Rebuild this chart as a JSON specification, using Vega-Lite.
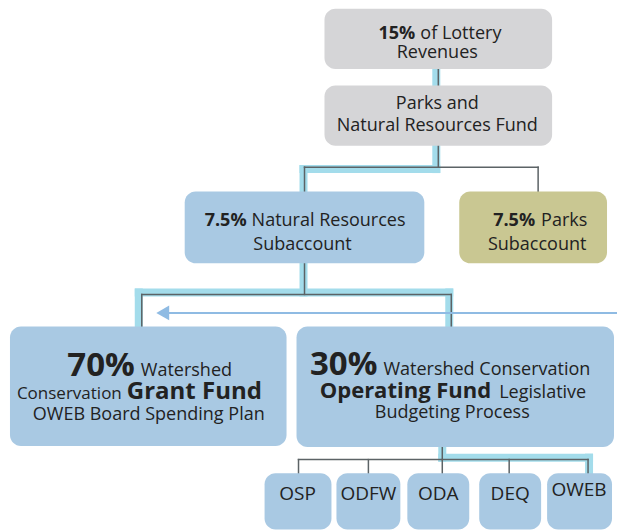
{
  "$schema": "https://vega.github.io/schema/vega-lite/v6.json",
  "width": 618,
  "height": 530,
  "autosize": {"type": "fit", "contains": "padding"},
  "padding": 0,
  "background": "white",
  "config": {"view": {"stroke": null}, "text": {"font": "Open Sans", "color": "#222222"}},
  "datasets": {
    "boxes": [
      {"name": "Lottery", "x": 325, "x2": 553, "y": 9, "y2": 71, "group": "gray"},
      {"name": "Fund", "x": 325, "x2": 553, "y": 88, "y2": 150, "group": "gray"},
      {"name": "NR", "x": 185, "x2": 425, "y": 197, "y2": 271, "group": "blue"},
      {"name": "Parks", "x": 460, "x2": 608, "y": 197, "y2": 271, "group": "olive"},
      {"name": "Grant", "x": 10, "x2": 287, "y": 336, "y2": 459, "group": "blue"},
      {"name": "Operating", "x": 297, "x2": 615, "y": 336, "y2": 460, "group": "blue"},
      {"name": "OSP", "x": 265, "x2": 332, "y": 487, "y2": 545, "group": "blue"},
      {"name": "ODFW", "x": 337, "x2": 401, "y": 487, "y2": 545, "group": "blue"},
      {"name": "ODA", "x": 408, "x2": 470, "y": 487, "y2": 545, "group": "blue"},
      {"name": "DEQ", "x": 480, "x2": 542, "y": 487, "y2": 545, "group": "blue"},
      {"name": "OWEB", "x": 548, "x2": 613, "y": 487, "y2": 545, "group": "blue"}
    ],
    "links": [
      {"kind": "highlight", "x": 437, "x2": 437, "y": 70, "y2": 88},
      {"kind": "highlight", "x": 437, "x2": 437, "y": 150, "y2": 174},
      {"kind": "highlight", "x": 304, "x2": 437, "y": 174, "y2": 174},
      {"kind": "highlight", "x": 304, "x2": 304, "y": 174, "y2": 197},
      {"kind": "highlight", "x": 304, "x2": 304, "y": 271, "y2": 301},
      {"kind": "highlight", "x": 139, "x2": 450, "y": 301, "y2": 301},
      {"kind": "highlight", "x": 139, "x2": 139, "y": 301, "y2": 336},
      {"kind": "highlight", "x": 450, "x2": 450, "y": 301, "y2": 336},
      {"kind": "highlight", "x": 443, "x2": 443, "y": 460, "y2": 471},
      {"kind": "highlight", "x": 443, "x2": 590, "y": 471, "y2": 471},
      {"kind": "highlight", "x": 590, "x2": 590, "y": 471, "y2": 487},
      {"kind": "connector", "x": 439, "x2": 439, "y": 70, "y2": 88},
      {"kind": "connector", "x": 439, "x2": 439, "y": 150, "y2": 172},
      {"kind": "connector", "x": 305, "x2": 539, "y": 172, "y2": 172},
      {"kind": "connector", "x": 539, "x2": 539, "y": 172, "y2": 197},
      {"kind": "connector", "x": 305, "x2": 305, "y": 172, "y2": 197},
      {"kind": "connector", "x": 305, "x2": 305, "y": 271, "y2": 303},
      {"kind": "connector", "x": 142, "x2": 452, "y": 303, "y2": 303},
      {"kind": "connector", "x": 142, "x2": 142, "y": 303, "y2": 336},
      {"kind": "connector", "x": 452, "x2": 452, "y": 303, "y2": 336},
      {"kind": "connector", "x": 443, "x2": 443, "y": 460, "y2": 473},
      {"kind": "connector", "x": 299, "x2": 589, "y": 473, "y2": 473},
      {"kind": "connector", "x": 299, "x2": 299, "y": 473, "y2": 487},
      {"kind": "connector", "x": 369, "x2": 369, "y": 473, "y2": 487},
      {"kind": "connector", "x": 443, "x2": 443, "y": 473, "y2": 487},
      {"kind": "connector", "x": 510, "x2": 510, "y": 473, "y2": 487},
      {"kind": "connector", "x": 589, "x2": 589, "y": 473, "y2": 487}
    ],
    "arrow": [
      {"x": 163, "x2": 618, "y": 322}
    ],
    "texts": [
      {"text": "15%", "x": 416, "y": 40, "style": "boldR"},
      {"text": "of Lottery", "x": 421, "y": 40, "style": "regL"},
      {"text": "Revenues", "x": 438, "y": 60, "style": "reg"},
      {"text": "Parks and", "x": 438, "y": 112, "style": "reg"},
      {"text": "Natural Resources Fund", "x": 438, "y": 135, "style": "reg"},
      {"text": "7.5%", "x": 247, "y": 233, "style": "boldR"},
      {"text": "Natural Resources", "x": 252, "y": 233, "style": "regL"},
      {"text": "Subaccount", "x": 303, "y": 257, "style": "reg"},
      {"text": "7.5%", "x": 536, "y": 233, "style": "boldR"},
      {"text": "Parks", "x": 542, "y": 233, "style": "regL"},
      {"text": "Subaccount", "x": 538, "y": 257, "style": "reg"},
      {"text": "70%", "x": 135, "y": 387, "style": "bigR"},
      {"text": "Watershed", "x": 141, "y": 387, "style": "regL"},
      {"text": "Conservation", "x": 122, "y": 411, "style": "regR"},
      {"text": "Grant Fund", "x": 127, "y": 411, "style": "midL"},
      {"text": "OWEB Board Spending Plan", "x": 149, "y": 432, "style": "reg"},
      {"text": "30%", "x": 378, "y": 386, "style": "bigR"},
      {"text": "Watershed Conservation", "x": 384, "y": 386, "style": "regL"},
      {"text": "Operating Fund", "x": 492, "y": 410, "style": "midR"},
      {"text": "Legislative", "x": 500, "y": 410, "style": "regL"},
      {"text": "Budgeting Process", "x": 453, "y": 430, "style": "reg"},
      {"text": "OSP", "x": 298, "y": 515, "style": "label"},
      {"text": "ODFW", "x": 369, "y": 515, "style": "label"},
      {"text": "ODA", "x": 439, "y": 515, "style": "label"},
      {"text": "DEQ", "x": 511, "y": 515, "style": "label"},
      {"text": "OWEB", "x": 580, "y": 510, "style": "label"}
    ]
  },
  "layer": [
    {
      "data": {"name": "links"},
      "transform": [{"filter": "datum.kind === 'highlight'"}],
      "mark": {"type": "rule", "strokeWidth": 8, "strokeCap": "square", "color": "#a3dceb"},
      "encoding": {
        "x": {"field": "x", "type": "quantitative", "scale": {"domain": [0, 618], "nice": false, "zero": false}, "axis": null},
        "x2": {"field": "x2"},
        "y": {"field": "y", "type": "quantitative", "scale": {"domain": [0, 530], "nice": false, "zero": false, "reverse": true}, "axis": null},
        "y2": {"field": "y2"}
      }
    },
    {
      "data": {"name": "links"},
      "transform": [{"filter": "datum.kind === 'connector'"}],
      "mark": {"type": "rule", "strokeWidth": 1.5, "strokeCap": "square", "color": "#5c6366"},
      "encoding": {
        "x": {"field": "x", "type": "quantitative", "axis": null},
        "x2": {"field": "x2"},
        "y": {"field": "y", "type": "quantitative", "axis": null},
        "y2": {"field": "y2"}
      }
    },
    {
      "data": {"name": "boxes"},
      "mark": {"type": "rect", "cornerRadius": 11},
      "encoding": {
        "x": {"field": "x", "type": "quantitative", "axis": null},
        "x2": {"field": "x2"},
        "y": {"field": "y", "type": "quantitative", "axis": null},
        "y2": {"field": "y2"},
        "color": {"field": "group", "type": "nominal", "legend": null,
          "scale": {"domain": ["gray", "blue", "olive"], "range": ["#d5d5d7", "#a9c9e3", "#c9c792"]}}
      }
    },
    {
      "data": {"name": "arrow"},
      "mark": {"type": "rule", "strokeWidth": 2, "color": "#8fbbe3"},
      "encoding": {
        "x": {"field": "x", "type": "quantitative", "axis": null},
        "x2": {"field": "x2"},
        "y": {"field": "y", "type": "quantitative", "axis": null}
      }
    },
    {
      "data": {"name": "arrow"},
      "mark": {"type": "point", "shape": "triangle-left", "filled": true, "size": 220, "color": "#8fbbe3", "opacity": 1},
      "encoding": {
        "x": {"field": "x", "type": "quantitative", "axis": null},
        "y": {"field": "y", "type": "quantitative", "axis": null}
      }
    },
    {
      "data": {"name": "texts"},
      "transform": [{"filter": "datum.style === 'reg'"}],
      "mark": {"type": "text", "fontSize": 18, "baseline": "alphabetic", "align": "center"},
      "encoding": {
        "x": {"field": "x", "type": "quantitative", "axis": null},
        "y": {"field": "y", "type": "quantitative", "axis": null},
        "text": {"field": "text"}
      }
    },
    {
      "data": {"name": "texts"},
      "transform": [{"filter": "datum.style === 'regL'"}],
      "mark": {"type": "text", "fontSize": 18, "baseline": "alphabetic", "align": "left"},
      "encoding": {
        "x": {"field": "x", "type": "quantitative", "axis": null},
        "y": {"field": "y", "type": "quantitative", "axis": null},
        "text": {"field": "text"}
      }
    },
    {
      "data": {"name": "texts"},
      "transform": [{"filter": "datum.style === 'regR'"}],
      "mark": {"type": "text", "fontSize": 17, "baseline": "alphabetic", "align": "right"},
      "encoding": {
        "x": {"field": "x", "type": "quantitative", "axis": null},
        "y": {"field": "y", "type": "quantitative", "axis": null},
        "text": {"field": "text"}
      }
    },
    {
      "data": {"name": "texts"},
      "transform": [{"filter": "datum.style === 'boldR'"}],
      "mark": {"type": "text", "fontSize": 18, "fontWeight": "bold", "baseline": "alphabetic", "align": "right"},
      "encoding": {
        "x": {"field": "x", "type": "quantitative", "axis": null},
        "y": {"field": "y", "type": "quantitative", "axis": null},
        "text": {"field": "text"}
      }
    },
    {
      "data": {"name": "texts"},
      "transform": [{"filter": "datum.style === 'bigR'"}],
      "mark": {"type": "text", "fontSize": 33, "fontWeight": "bold", "baseline": "alphabetic", "align": "right"},
      "encoding": {
        "x": {"field": "x", "type": "quantitative", "axis": null},
        "y": {"field": "y", "type": "quantitative", "axis": null},
        "text": {"field": "text"}
      }
    },
    {
      "data": {"name": "texts"},
      "transform": [{"filter": "datum.style === 'midL'"}],
      "mark": {"type": "text", "fontSize": 24, "fontWeight": "bold", "baseline": "alphabetic", "align": "left"},
      "encoding": {
        "x": {"field": "x", "type": "quantitative", "axis": null},
        "y": {"field": "y", "type": "quantitative", "axis": null},
        "text": {"field": "text"}
      }
    },
    {
      "data": {"name": "texts"},
      "transform": [{"filter": "datum.style === 'midR'"}],
      "mark": {"type": "text", "fontSize": 22, "fontWeight": "bold", "baseline": "alphabetic", "align": "right"},
      "encoding": {
        "x": {"field": "x", "type": "quantitative", "axis": null},
        "y": {"field": "y", "type": "quantitative", "axis": null},
        "text": {"field": "text"}
      }
    },
    {
      "data": {"name": "texts"},
      "transform": [{"filter": "datum.style === 'label'"}],
      "mark": {"type": "text", "fontSize": 19, "baseline": "alphabetic", "align": "center"},
      "encoding": {
        "x": {"field": "x", "type": "quantitative", "axis": null},
        "y": {"field": "y", "type": "quantitative", "axis": null},
        "text": {"field": "text"}
      }
    }
  ]
}
